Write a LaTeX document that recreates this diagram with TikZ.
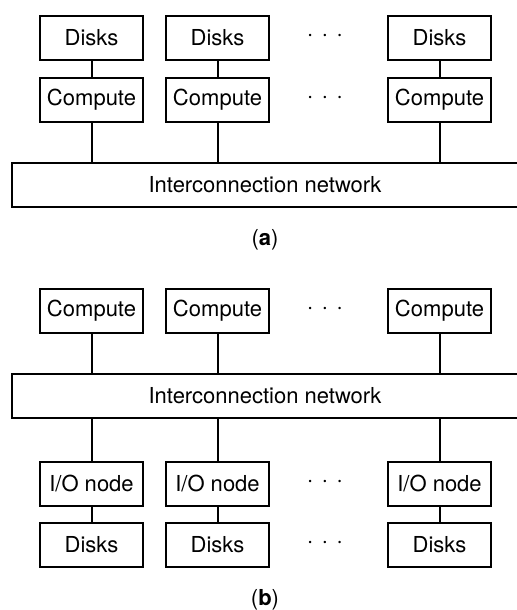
\documentclass[tikz,border=0pt]{standalone}
\usepackage{fontspec}
\setmainfont{TeX Gyre Heros}
\begin{document}
\begin{tikzpicture}[x=0.5pt,y=-0.5pt,line width=1pt,
	box_node/.style={rectangle,draw,minimum width=51.5pt,minimum height=22pt,inner sep=0pt,font=\fontsize{11}{13}\selectfont},
	net_node/.style={rectangle,draw,minimum width=253pt,minimum height=22pt,inner sep=0pt,font=\fontsize{11}{13}\selectfont},
	dots_node/.style={inner sep=0pt,font=\fontsize{12}{13}\selectfont},
	cap_node/.style={inner sep=0pt,font=\fontsize{11}{13}\selectfont}]
		
		\useasboundingbox (0,0) rectangle (517,610);
		
		% (a)
		\node[box_node] (ad1) at (91.5,38) {Disks};
		\node[box_node] (ad2) at (217.5,38) {Disks};
		\node[box_node] (ad3) at (439.5,38) {Disks};
		\node[box_node] (ac1) at (91.5,100) {Compute};
		\node[box_node] (ac2) at (217.5,100) {Compute};
		\node[box_node] (ac3) at (439.5,100) {Compute};
		\node[dots_node] (adots1) at (325,38) {·\,\,·\,\,·};
		\node[dots_node] (adots2) at (325,100) {·\,\,·\,\,·};
		\node[net_node] (anet) at (265,185) {Interconnection network};
		\node[cap_node] (acap) at (265,240) {(\textbf{a})};
		
		\draw (ad1) -- (ac1);
		\draw (ad2) -- (ac2);
		\draw (ad3) -- (ac3);
		\draw (ac1) -- (ac1 |- anet.north);
		\draw (ac2) -- (ac2 |- anet.north);
		\draw (ac3) -- (ac3 |- anet.north);
		
		% (b)
		\node[box_node] (bc1) at (91.5,311) {Compute};
		\node[box_node] (bc2) at (217.5,311) {Compute};
		\node[box_node] (bc3) at (439.5,311) {Compute};
		\node[dots_node] (bdots1) at (325,311) {·\,\,·\,\,·};
		\node[net_node] (bnet) at (265,396) {Interconnection network};
		\node[box_node] (bio1) at (91.5,483.5) {I/O node};
		\node[box_node] (bio2) at (217.5,483.5) {I/O node};
		\node[box_node] (bio3) at (439.5,483.5) {I/O node};
		\node[dots_node] (bdots2) at (325,483.5) {·\,\,·\,\,·};
		\node[box_node] (bd1) at (91.5,545) {Disks};
		\node[box_node] (bd2) at (217.5,545) {Disks};
		\node[box_node] (bd3) at (439.5,545) {Disks};
		\node[dots_node] (bdots3) at (325,545) {·\,\,·\,\,·};
		\node[cap_node] (bcap) at (265,600) {(\textbf{b})};
		
		\draw (bc1) -- (bc1 |- bnet.north);
		\draw (bc2) -- (bc2 |- bnet.north);
		\draw (bc3) -- (bc3 |- bnet.north);
		\draw (bio1) -- (bio1 |- bnet.south);
		\draw (bio2) -- (bio2 |- bnet.south);
		\draw (bio3) -- (bio3 |- bnet.south);
		\draw (bio1) -- (bd1);
		\draw (bio2) -- (bd2);
		\draw (bio3) -- (bd3);
		\end{tikzpicture}
\end{document}
